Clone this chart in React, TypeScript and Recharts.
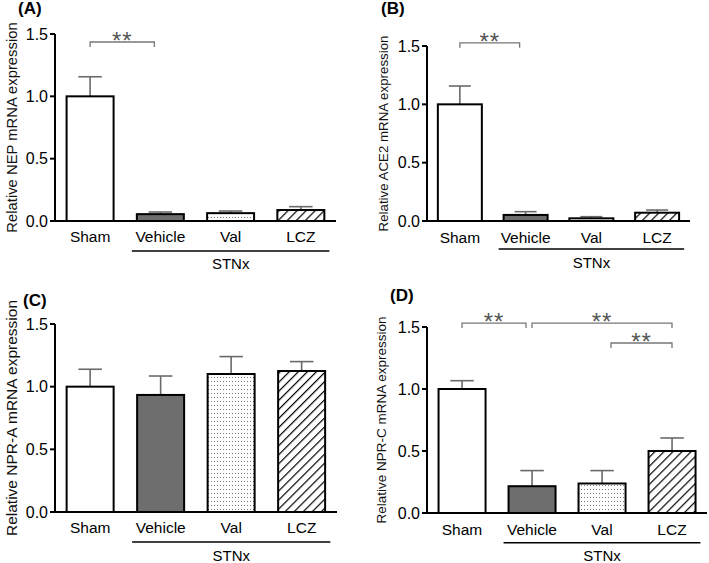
import React from "react"
import { BarChart, Bar, XAxis, YAxis, Cell, ReferenceLine } from "recharts"

const categories = ["Sham", "Vehicle", "Val", "LCZ"]
const yTicks = [0, 0.5, 1.0, 1.5]

// (A) NEP
const nepMean = [1.0, 0.055, 0.063, 0.088]
const nepSem = [0.157, 0.017, 0.017, 0.027]
// (B) ACE2
const ace2Mean = [1.0, 0.052, 0.023, 0.071]
const ace2Sem = [0.157, 0.028, 0.014, 0.023]
// (C) NPR-A
const npraMean = [1.0, 0.934, 1.101, 1.125]
const npraSem = [0.139, 0.151, 0.139, 0.075]
// (D) NPR-C
const nprcMean = [1.0, 0.216, 0.238, 0.5]
const nprcSem = [0.067, 0.126, 0.104, 0.105]

// significance brackets: [from, to, height]
const nepSig = [["Sham", "Vehicle", 1.436]]
const ace2Sig = [["Sham", "Vehicle", 1.527]]
const npraSig: any[] = []
const nprcSig = [
  ["Sham", "Vehicle", 1.532],
  ["Vehicle", "LCZ", 1.532],
  ["Val", "LCZ", 1.371],
]

const FONT = '"Liberation Sans", Arial, Helvetica, sans-serif'
const ERR = "#6a6a6a"
const fills = ["#ffffff", "#6e6e6e", "url(#dots-ID)", "url(#hatch-ID)"]

function BarWithError(props: any) {
  const { x, y, width, height, fill, payload } = props
  const perUnit = payload.mean > 0 ? height / payload.mean : 0
  const top = y - payload.sem * perUnit
  const cx = x + width / 2
  const half = width * 0.25
  return (
    <g>
      <line x1={cx} y1={y} x2={cx} y2={top} stroke={ERR} strokeWidth={1.6} />
      <line x1={cx - half} y1={top} x2={cx + half} y2={top} stroke={ERR} strokeWidth={1.6} />
      <rect x={x} y={y} width={width} height={height} fill={fill} stroke="#000" strokeWidth={2} />
    </g>
  )
}

function Bracket(props: any) {
  const { x1, x2, y1, insetL = 0, insetR = 0 } = props
  const a = x1 + insetL
  const b = x2 - insetR
  return (
    <g>
      <path d={`M${a},${y1 + 5}V${y1}H${b}V${y1 + 5}`} fill="none" stroke="#777" strokeWidth={1.3} />
      <text x={(a + b) / 2} y={y1 + 7} textAnchor="middle" fontSize={24} letterSpacing={1} fill="#555">
        **
      </text>
    </g>
  )
}

function GroupLine(props: any) {
  const { x1, x2, y1 } = props
  const band = (x2 - x1) / 2
  const ext = band * 0.335 + 5
  return (
    <g>
      <line x1={x1 - ext} y1={y1} x2={x2 + ext} y2={y1} stroke="#000" strokeWidth={1.5} />
      <text x={(x1 + x2) / 2} y={y1 + 18.5} textAnchor="middle" fontSize={15} fill="#000">
        STNx
      </text>
    </g>
  )
}

function Panel({ id, letter, title, means, sems, sig, box }: any) {
  const rows = categories.map((c, i) => ({ category: c, mean: means[i], sem: sems[i] }))
  return (
    <div style={{ position: "absolute", left: box.left, top: box.top, width: box.w, height: box.h }}>
      <div
        style={{
          position: "absolute",
          left: box.letterX,
          top: box.letterY,
          fontSize: 17,
          fontWeight: 700,
          lineHeight: "18px",
          color: "#000",
          zIndex: 2,
        }}
      >
        {letter}
      </div>
      <BarChart
        width={box.w}
        height={box.h}
        data={rows}
        margin={{ top: box.mt, right: box.mr, left: 0, bottom: 0 }}
        barCategoryGap="16.5%"
      >
        <defs>
          <pattern id={`dots-${id}`} width={3} height={4} patternUnits="userSpaceOnUse">
            <rect width={3} height={4} fill="#fff" />
            <rect x={1} y={1} width={1} height={1} fill="#777" />
          </pattern>
          <pattern
            id={`hatch-${id}`}
            width={6.4}
            height={6.4}
            patternUnits="userSpaceOnUse"
            patternTransform="rotate(45)"
          >
            <rect width={6.4} height={6.4} fill="#fff" />
            <line x1={0} y1={0} x2={0} y2={6.4} stroke="#000" strokeWidth={2.4} />
          </pattern>
        </defs>
        <XAxis
          dataKey="category"
          height={box.xh}
          tickLine={false}
          tickSize={0}
          tickMargin={box.tm}
          axisLine={{ stroke: "#000", strokeWidth: 2 }}
          tick={{ fontSize: 15.5, fill: "#000" }}
          interval={0}
        />
        <YAxis
          width={box.yw}
          domain={[0, 1.5]}
          ticks={yTicks}
          tickFormatter={(v: number) => v.toFixed(1)}
          tickSize={5}
          tickMargin={2}
          axisLine={{ stroke: "#000", strokeWidth: 2 }}
          tickLine={{ stroke: "#000", strokeWidth: 2 }}
          tick={{ fontSize: 16, fill: "#000" }}
          label={{
            value: title,
            angle: -90,
            position: "insideLeft",
            offset: box.lx,
            fontSize: box.lf,
            fill: "#111",
            style: { textAnchor: "middle" },
          }}
        />
        <Bar dataKey="mean" isAnimationActive={false} shape={<BarWithError />}>
          {rows.map((r, i) => (
            <Cell key={r.category} fill={fills[i].replace("ID", id)} />
          ))}
        </Bar>
        <ReferenceLine
          ifOverflow="visible"
          segment={[
            { x: "Vehicle", y: -0.24 },
            { x: "LCZ", y: -0.24 },
          ]}
          shape={<GroupLine />}
        />
        {sig.map((s: any, i: number) => (
          <ReferenceLine
            key={i}
            ifOverflow="visible"
            segment={[
              { x: s[0], y: s[2] },
              { x: s[1], y: s[2] },
            ]}
            shape={<Bracket insetL={box.insets[i][0]} insetR={box.insets[i][1]} />}
          />
        ))}
      </BarChart>
    </div>
  )
}

const layoutA = { left: 0, top: 0, w: 355, h: 280, mt: 34, mr: 19, yw: 55, xh: 59, tm: 10, lx: 12, lf: 14.8, letterX: 18, letterY: 0, insets: [[0, 6]] }
const layoutB = { left: 355, top: 0, w: 354, h: 280, mt: 46, mr: 19, yw: 72, xh: 59, tm: 11, lx: 28, lf: 13.3, letterX: 26, letterY: 0, insets: [[0, 6]] }
const layoutC = { left: 0, top: 280, w: 355, h: 283, mt: 44, mr: 18, yw: 55, xh: 51, tm: 10, lx: 11, lf: 15.5, letterX: 23, letterY: 12, insets: [] }
const layoutD = { left: 355, top: 280, w: 354, h: 283, mt: 47, mr: 2, yw: 72, xh: 50, tm: 11, lx: 26.5, lf: 13.5, letterX: 35, letterY: 7, insets: [[0, 6], [0, 0], [9, 0]] }

export default function App() {
  return (
    <div
      style={{
        position: "absolute",
        left: 0,
        top: 0,
        width: 709,
        height: 563,
        background: "#fff",
        overflow: "hidden",
        fontFamily: FONT,
      }}
    >
      <Panel id="a" letter="(A)" title="Relative NEP mRNA expression" means={nepMean} sems={nepSem} sig={nepSig} box={layoutA} />
      <Panel id="b" letter="(B)" title="Relative ACE2 mRNA expression" means={ace2Mean} sems={ace2Sem} sig={ace2Sig} box={layoutB} />
      <Panel id="c" letter="(C)" title="Relative NPR-A mRNA expression" means={npraMean} sems={npraSem} sig={npraSig} box={layoutC} />
      <Panel id="d" letter="(D)" title="Relative NPR-C mRNA expression" means={nprcMean} sems={nprcSem} sig={nprcSig} box={layoutD} />
    </div>
  )
}
